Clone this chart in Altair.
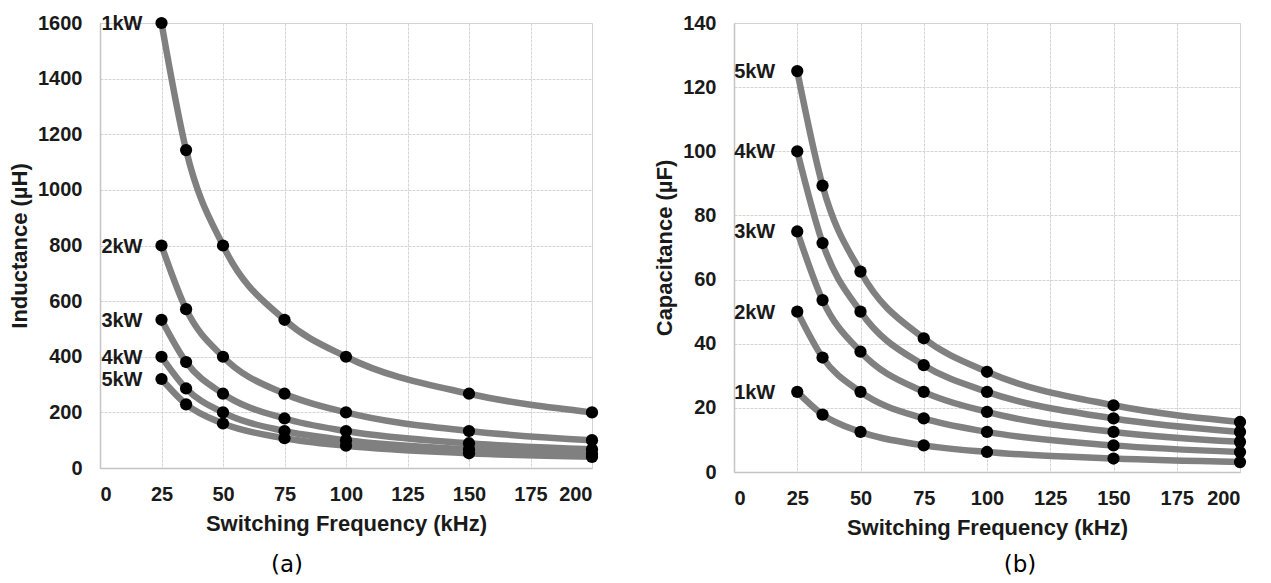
import altair as alt
import pandas as pd

freqs = [25, 35, 50, 75, 100, 150, 200]
powers = ["1kW", "2kW", "3kW", "4kW", "5kW"]

inductance = {
    "1kW": [1600, 1143, 800, 533, 400, 267, 200],
    "2kW": [800, 571, 400, 267, 200, 133, 100],
    "3kW": [533, 381, 267, 178, 133, 89, 67],
    "4kW": [400, 286, 200, 133, 100, 67, 50],
    "5kW": [320, 229, 160, 107, 80, 53, 40],
}
capacitance = {
    "1kW": [25, 17.9, 12.5, 8.3, 6.25, 4.2, 3.1],
    "2kW": [50, 35.7, 25, 16.7, 12.5, 8.3, 6.25],
    "3kW": [75, 53.6, 37.5, 25, 18.75, 12.5, 9.4],
    "4kW": [100, 71.4, 50, 33.3, 25, 16.7, 12.5],
    "5kW": [125, 89.3, 62.5, 41.7, 31.25, 20.8, 15.6],
}
x_ticks = [0, 25, 50, 75, 100, 125, 150, 175, 200]
yL_ticks = [0, 200, 400, 600, 800, 1000, 1200, 1400, 1600]
yR_ticks = [0, 20, 40, 60, 80, 100, 120, 140]
panel_tags = ["(a)", "(b)"]

FONT = "Liberation Sans"
TXT = "#1a1a1a"


def long_df(d):
    rows = []
    for p in powers:
        for f, v in zip(freqs, d[p]):
            rows.append({"freq": f, "power": p, "value": v})
    return pd.DataFrame(rows)


def panel(d, ytitle, ymax, yticks, w, h, tag, tag_xy, label_dx):
    df = long_df(d)
    xenc = alt.X(
        "freq:Q",
        scale=alt.Scale(domain=[0, 200], nice=False),
        axis=alt.Axis(
            values=x_ticks, title="Switching Frequency (kHz)", ticks=False,
            labelPadding=16, titlePadding=9, format="d",
        ),
    )
    yenc = alt.Y(
        "value:Q",
        scale=alt.Scale(domain=[0, ymax], nice=False),
        axis=alt.Axis(
            values=yticks, title=ytitle, ticks=False, format="d",
            labelPadding=18, titlePadding=6,
        ),
    )
    base = alt.Chart(df).encode(x=xenc, y=yenc, detail="power:N")
    lines = base.mark_line(color="#808080", strokeWidth=6.5, interpolate="monotone")
    pts = base.mark_circle(color="#000000", opacity=1, size=150)
    lab_df = df[df["freq"] == freqs[0]]
    labels = alt.Chart(lab_df).mark_text(
        align="right", baseline="middle", dx=label_dx, dy=1,
        font=FONT, fontSize=20, fontWeight="bold", color=TXT,
    ).encode(x="freq:Q", y="value:Q", text="power:N")
    tag_c = alt.Chart(pd.DataFrame({"t": [tag]})).mark_text(
        align="center", baseline="middle", font="DejaVu Sans",
        fontSize=23, color="#000000",
    ).encode(x=alt.value(tag_xy[0]), y=alt.value(tag_xy[1]), text="t:N")
    return alt.layer(lines, pts, labels, tag_c).properties(width=w, height=h)


left = panel(inductance, "Inductance (µH)", 1600, yL_ticks, 492, 445,
             panel_tags[0], (187, 542), -19)
right = panel(capacitance, "Capacitance (µF)", 140, yR_ticks, 506, 449,
              panel_tags[1], (286, 542), -22)

chart = alt.hconcat(left, right, spacing=142, bounds="flush").properties(
    padding={"left": 0, "top": 1, "right": 0, "bottom": 0}
).configure_axis(
    labelFont=FONT, labelFontSize=20, labelFontWeight="bold", labelColor=TXT,
    titleFont=FONT, titleFontSize=22, titleFontWeight="bold", titleColor=TXT,
    gridColor="#d4d4d4", gridDash=[3, 1], gridWidth=1,
    domainColor="#c4c4c4", domainWidth=1.5,
).configure_view(stroke="#d4d4d4")

chart.save("out.html", embed_options={"renderer": "svg", "actions": False})
